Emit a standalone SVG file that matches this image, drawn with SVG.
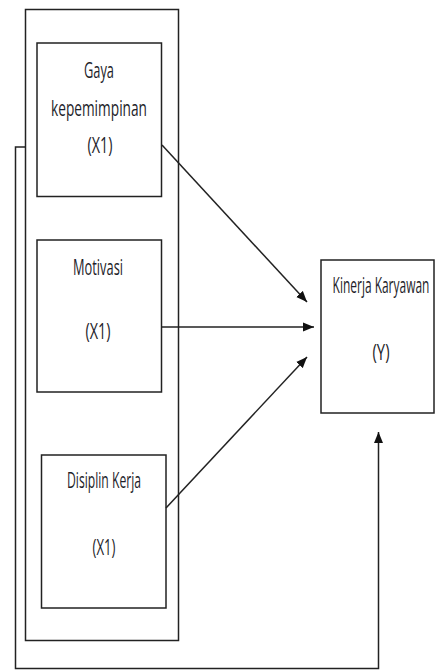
<svg xmlns="http://www.w3.org/2000/svg" width="435" height="671" viewBox="0 0 435 671">
<style>
.box{fill:#fff;stroke:#222;stroke-width:1.5}
.t{font-family:"Open Sans","Liberation Sans",sans-serif;font-size:22px;fill:#1e1e2a;text-anchor:middle}
.c{fill:none;stroke:#222;stroke-width:1.5}
</style>
<defs>
<marker id="ah" markerUnits="userSpaceOnUse" markerWidth="12" markerHeight="10" refX="11" refY="5" orient="auto">
<path d="M0,0.5 L11,5 L0,9.5 z" fill="#111"/>
</marker>
</defs>
<rect width="435" height="671" fill="#fff"/>
<g id="group-x">
<rect class="box" x="25.5" y="9.5" width="153" height="631"/>
</g>
<g id="node-gaya">
<rect class="box" x="37" y="43" width="124.5" height="153.5"/>
<text class="t" x="99" y="78" textLength="30" lengthAdjust="spacingAndGlyphs">Gaya</text>
<text class="t" x="99" y="116" textLength="96" lengthAdjust="spacingAndGlyphs">kepemimpinan</text>
<text class="t" x="100" y="153" textLength="25" lengthAdjust="spacingAndGlyphs">(X1)</text>
</g>
<g id="node-motivasi">
<rect class="box" x="37" y="240" width="124.5" height="152"/>
<text class="t" x="98" y="275" textLength="50" lengthAdjust="spacingAndGlyphs">Motivasi</text>
<text class="t" x="98" y="339" textLength="25" lengthAdjust="spacingAndGlyphs">(X1)</text>
</g>
<g id="node-disiplin">
<rect class="box" x="41.5" y="455" width="124.5" height="153"/>
<text class="t" x="104" y="488" textLength="74" lengthAdjust="spacingAndGlyphs">Disiplin Kerja</text>
<text class="t" x="104" y="555" textLength="23" lengthAdjust="spacingAndGlyphs">(X1)</text>
</g>
<g id="node-kinerja">
<rect class="box" x="321" y="260" width="113" height="153"/>
<text class="t" transform="translate(381,293) scale(0.55,1)" x="0" y="0" textLength="176" lengthAdjust="spacingAndGlyphs">Kinerja Karyawan</text>
<text class="t" x="381" y="360" textLength="17" lengthAdjust="spacingAndGlyphs">(Y)</text>
</g>
<g id="connectors">
<line class="c" x1="162" y1="145" x2="307" y2="302" marker-end="url(#ah)"/>
<line class="c" x1="162" y1="327" x2="314" y2="327" marker-end="url(#ah)"/>
<line class="c" x1="166" y1="508" x2="307" y2="357" marker-end="url(#ah)"/>
<path class="c" d="M25,147 H15.5 V668.5 H378.5 V432" marker-end="url(#ah)"/>
</g>
</svg>
